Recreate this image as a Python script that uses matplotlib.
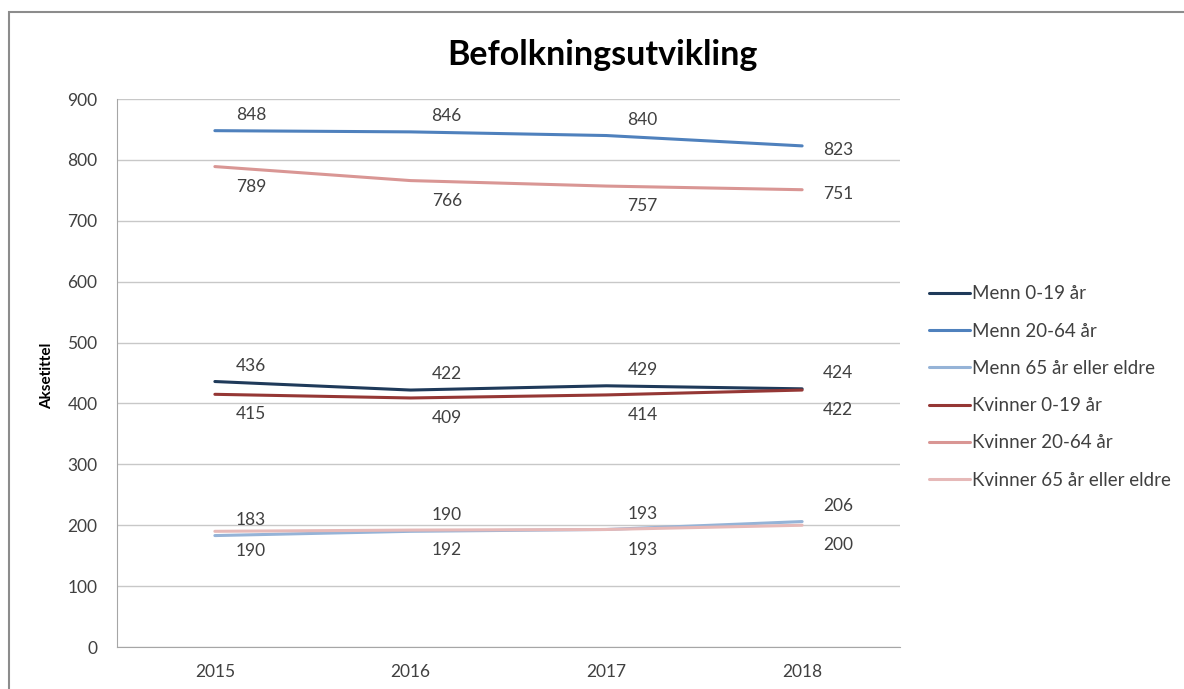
import matplotlib
matplotlib.use("Agg")
import matplotlib.pyplot as plt
from matplotlib.patches import Rectangle

plt.rcParams['font.family'] = ['Lato', 'DejaVu Sans']

years = ["2015", "2016", "2017", "2018"]
series_names = ["Menn 0-19 år", "Menn 20-64 år", "Menn 65 år eller eldre",
                "Kvinner 0-19 år", "Kvinner 20-64 år", "Kvinner 65 år eller eldre"]
menn_0_19 = [436, 422, 429, 424]
menn_20_64 = [848, 846, 840, 823]
menn_65 = [183, 190, 193, 206]
kvinner_0_19 = [415, 409, 414, 422]
kvinner_20_64 = [789, 766, 757, 751]
kvinner_65 = [190, 192, 193, 200]
series_values = [menn_0_19, menn_20_64, menn_65, kvinner_0_19, kvinner_20_64, kvinner_65]
colors = ["#1F3A5A", "#4F81BD", "#95B3D7", "#953735", "#D99694", "#E6B9B8"]
label_above = [True, True, True, False, False, False]
y_ticks = [0, 100, 200, 300, 400, 500, 600, 700, 800, 900]

W, H = 1184, 689
fig = plt.figure(figsize=(W/100, H/100), dpi=100)
fig.patches.append(Rectangle((9/W, -0.02), 1.1, 1 - 12/H + 0.02,
                             transform=fig.transFigure, fill=False,
                             edgecolor="#8C8C8C", linewidth=1.5))
ax = fig.add_axes([117/W, 1 - 647/H, (900-117)/W, (647-99)/H])

x = list(range(len(years)))
for si, (name, vals, c, above) in enumerate(zip(series_names, series_values, colors, label_above)):
    ax.plot(x, vals, color=c, linewidth=2.2, label=name, solid_capstyle='round', zorder=3)
    for xi, v in zip(x, vals):
        dy = 11.5 if above else -14.5
        if si in (1, 4) and xi == len(x) - 1:
            dy = -3
        ax.annotate(str(v), (xi, v), xytext=(26, dy),
                    textcoords="offset points", ha="center", va="center",
                    fontsize=12.5, color="#404040")

ax.set_xlim(-0.5, 3.5)
ax.set_ylim(0, 900)
ax.set_yticks(y_ticks)
ax.set_xticks(x)
ax.set_xticklabels(years)
ax.yaxis.grid(True, color="#C8C8C8", linewidth=1)
ax.set_axisbelow(True)
for s in ["top", "right"]:
    ax.spines[s].set_visible(False)
ax.spines["left"].set_color("#A6A6A6")
ax.spines["bottom"].set_color("#A6A6A6")
ax.tick_params(axis="both", length=0, labelsize=12.5, labelcolor="#404040")
ax.tick_params(axis="x", pad=12)
ax.tick_params(axis="y", pad=14)

fig.text(47/W, 1 - 376/H, "Aksetittel", rotation=90, ha="center", va="center",
         fontsize=11, fontweight="bold", color="black")

fig.text(602/W, 1 - 55/H, "Befolkningsutvikling", ha="center", va="center",
         fontsize=24.5, fontweight="bold", color="black")

leg = ax.legend(loc="center left", bbox_to_anchor=(929/W, 1 - 387/H),
                bbox_transform=fig.transFigure, frameon=False, fontsize=13.5,
                handlelength=2.2, handletextpad=0.12, labelspacing=1.08,
                borderaxespad=0, borderpad=0)
for t in leg.get_texts():
    t.set_color("#404040")

fig.savefig("out.png", dpi=100)
